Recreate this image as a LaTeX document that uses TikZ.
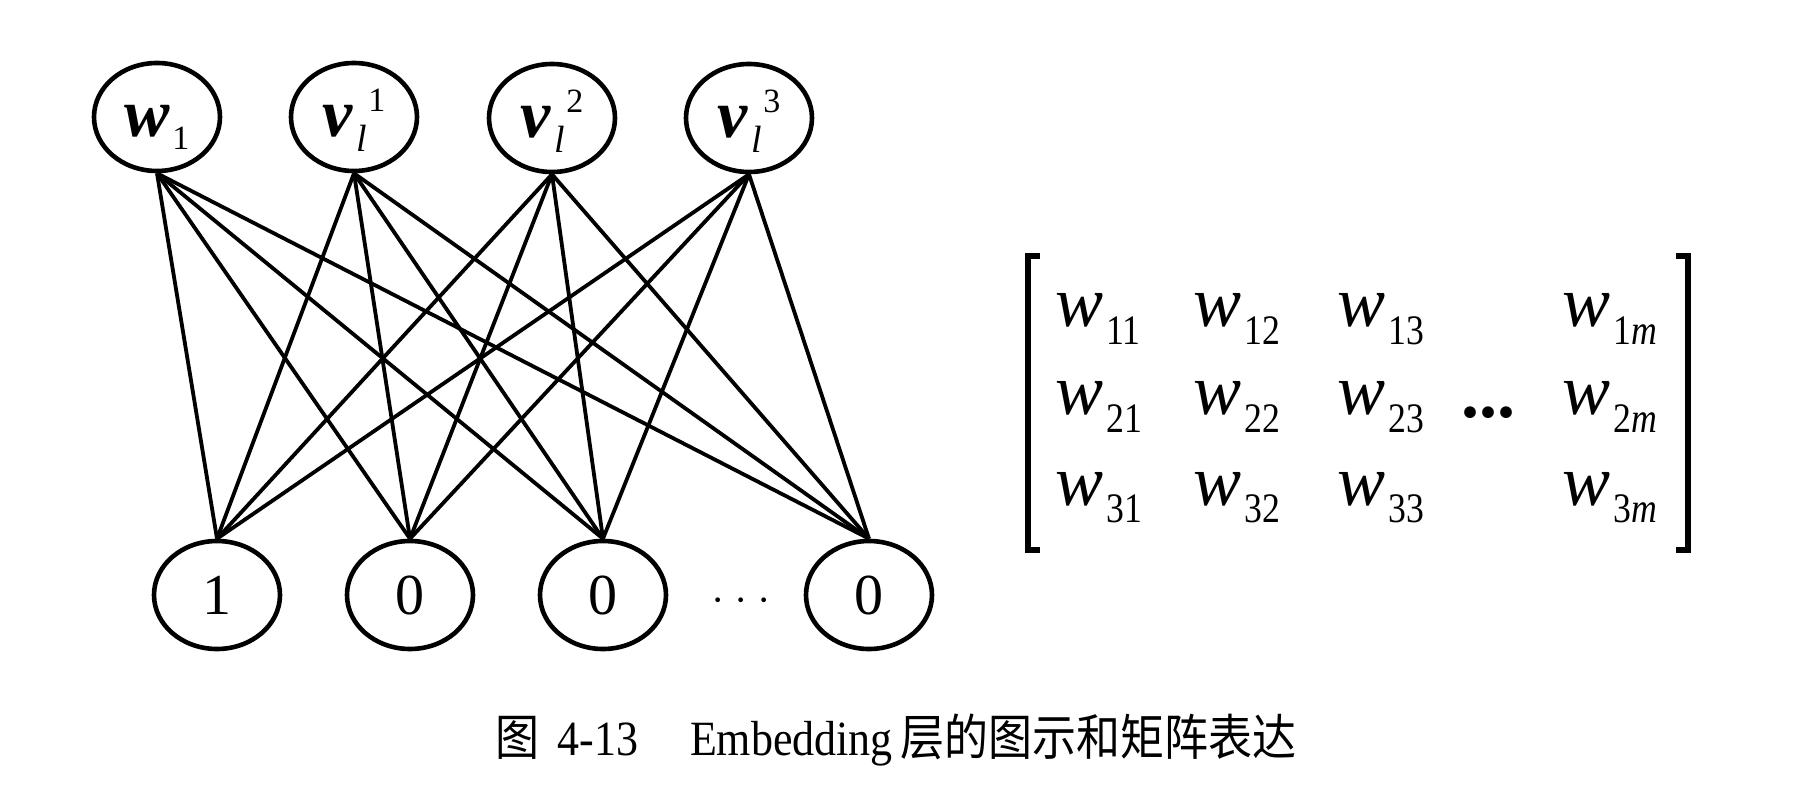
\documentclass[tikz,border=0pt]{standalone}
\usepackage{fontspec}
\setmainfont{Liberation Serif}
\newfontfamily\cjk{Noto Sans CJK SC}
\usetikzlibrary{shapes.geometric}
\newcommand\mw[1]{\textit{w}\kern1.5pt\raisebox{-9pt}{\fontsize{21}{21}\selectfont\scalebox{0.85}[1]{#1}}}
\newcommand\vl[1]{\textbf{\textit{v}}\kern1.5pt\rlap{\raisebox{-7.5pt}{\fontsize{19}{19}\selectfont\itshape l}}\kern6pt\raisebox{12.5pt}{\fontsize{17}{17}\selectfont #1}}
\begin{document}
\begin{tikzpicture}[x=0.5pt,y=-0.5pt,
  unit/.style={ellipse,draw,line width=2.3pt,minimum width=63pt,minimum height=54pt,inner sep=0pt},
  toplab/.style={unit,font=\fontsize{34}{34}\selectfont,text height=20pt,text depth=0pt},
  botlab/.style={unit,font=\fontsize{29}{29}\selectfont},
  edge/.style={line width=1.9pt},
  bracket/.style={line width=2.6pt},
  entry/.style={anchor=base west,inner sep=0pt,font=\fontsize{36}{36}\selectfont}]
\useasboundingbox (0,0) rectangle (1806,786);
% top layer
\node[toplab] (t1) at (157,117) {\textbf{\textit{w}}\kern1pt\raisebox{-6.5pt}{\fontsize{17}{17}\selectfont 1}};
\node[toplab] (t2) at (354,117) {\vl{1}};
\node[toplab] (t3) at (552,118) {\vl{2}};
\node[toplab] (t4) at (749,118) {\vl{3}};
% bottom layer
\node[botlab] (b1) at (217,595) {1};
\node[botlab] (b2) at (410,595) {0};
\node[botlab] (b3) at (603,595) {0};
\node[botlab] (b4) at (869,595) {0};
\node[inner sep=0pt,font=\fontsize{20}{20}\selectfont] (bdots) at (741,606) {·\ ·\ ·};
% connections
\foreach \t in {1,...,4}{
  \foreach \b in {1,...,4}{
    \draw[edge] (t\t.south) -- (b\b.north);
  }
}
% matrix
\draw[bracket] (1040,256) -- (1028,256) -- (1028,550) -- (1040,550);
\draw[bracket] (1676,256) -- (1688,256) -- (1688,550) -- (1676,550);
\node[entry] (m11) at (1055,327) {\mw{11}};
\node[entry] (m12) at (1193,327) {\mw{12}};
\node[entry] (m13) at (1337,327) {\mw{13}};
\node[entry] (m1m) at (1562,327) {\mw{1\textit{m}}};
\node[entry] (m21) at (1055,415) {\mw{21}};
\node[entry] (m22) at (1193,415) {\mw{22}};
\node[entry] (m23) at (1337,415) {\mw{23}};
\node[anchor=base,inner sep=0pt,font=\fontsize{36}{36}\selectfont\bfseries] (mdots) at (1488,418) {...};
\node[entry] (m2m) at (1562,415) {\mw{2\textit{m}}};
\node[entry] (m31) at (1055,505) {\mw{31}};
\node[entry] (m32) at (1193,505) {\mw{32}};
\node[entry] (m33) at (1337,505) {\mw{33}};
\node[entry] (m3m) at (1562,505) {\mw{3\textit{m}}};
% caption
\node[anchor=base west,inner sep=0pt,font=\fontsize{22}{22}\selectfont] (cap) at (495,755)
  {\scalebox{1}[1.12]{{\cjk 图}\hspace{9pt}4-13\hspace{26pt}Embedding\hspace{4pt}{\cjk 层的图示和矩阵表达}}};
\end{tikzpicture}
\end{document}
